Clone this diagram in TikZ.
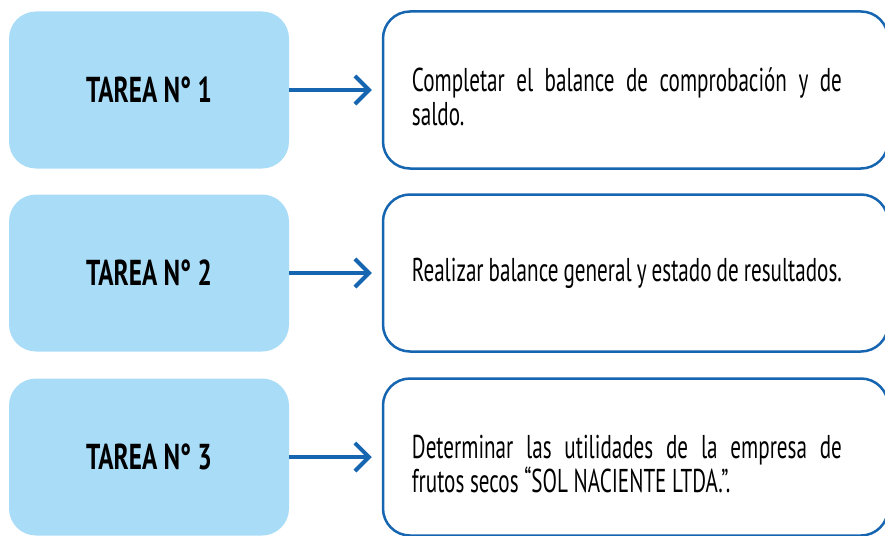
\documentclass[tikz,border=0pt]{standalone}
\usepackage{fontspec}
\setmainfont{PT Sans}[FakeStretch=0.64, BoldFeatures={FakeStretch=0.7}]
\usetikzlibrary{positioning,arrows.meta}
\hyphenpenalty=10000
\exhyphenpenalty=10000

\definecolor{taskfill}{RGB}{169,220,247}
\definecolor{flowblue}{RGB}{22,101,176}

\tikzset{
    taskbox/.style  = {rectangle, rounded corners=27pt, fill=taskfill,
                       minimum width=280pt, minimum height=157pt,
                       font=\fontsize{36}{42}\selectfont\bfseries},
    descbox/.style  = {rectangle, rounded corners=27pt, draw=flowblue, line width=2.5pt,
                       minimum width=505pt, minimum height=157pt},
    desctext/.style = {text width=430pt, align=justify, inner sep=0pt,
                       font=\fontsize{33}{34}\selectfont},
    flow/.style     = {-{Straight Barb[length=14pt,width=28pt]}, draw=flowblue,
                       line width=4pt, shorten >=10pt},
}

\begin{document}
\begin{tikzpicture}[x=1pt,y=-1pt]
        \useasboundingbox (0,0) rectangle (885,535);

        % Tasks
        \node[taskbox] (task1) at (149,  90) {TAREA N° 1};
        \node[taskbox] (task2) at (149, 273) {TAREA N° 2};
        \node[taskbox] (task3) at (149, 457) {TAREA N° 3};

        % Descriptions
        \node[descbox] (desc1) at (635.5,  90) {};
        \node[descbox] (desc2) at (635.5, 273) {};
        \node[descbox] (desc3) at (635.5, 457) {};

        \node[desctext, right=30pt of desc1.west, yshift=-7pt] (text1)
            {Completar el balance de comprobación y de saldo.};
        \node[desctext, right=30pt of desc2.west] (text2)
            {Realizar balance general y estado de resultados.};
        \node[desctext, right=30pt of desc3.west, yshift=-7pt] (text3)
            {Determinar las utilidades de la empresa de frutos secos “SOL NACIENTE LTDA.”.};

        % Arrows
        \draw[flow] (task1.east) -- (desc1.west);
        \draw[flow] (task2.east) -- (desc2.west);
        \draw[flow] (task3.east) -- (desc3.west);
\end{tikzpicture}
\end{document}
